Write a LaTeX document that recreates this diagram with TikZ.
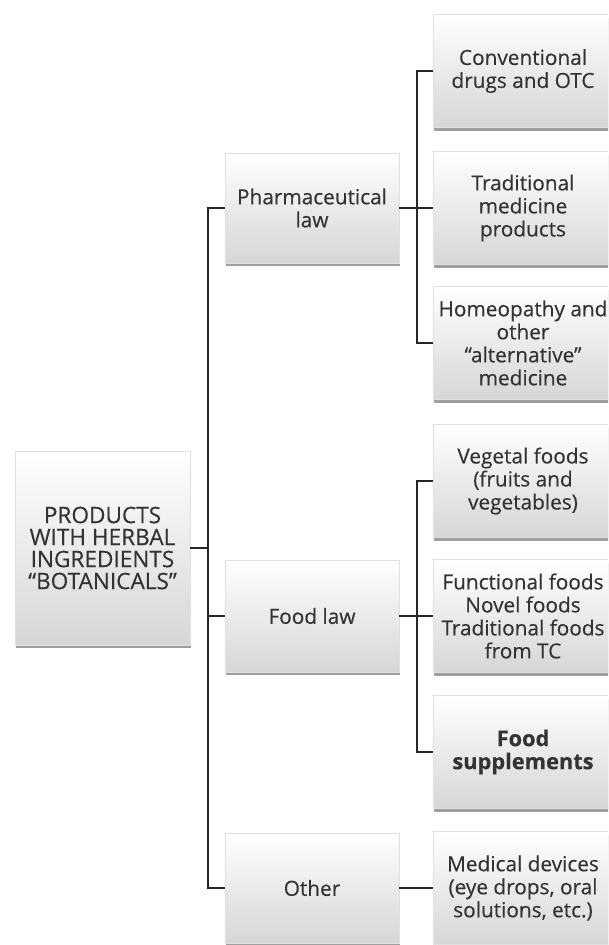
\documentclass[tikz,border=0pt]{standalone}
\usepackage{fontspec}
\setmainfont{Open Sans}[FakeBold=0.35]
\usetikzlibrary{shadows}
\definecolor{txt}{HTML}{333333}
\definecolor{ln}{HTML}{262626}
\begin{document}
\begin{tikzpicture}[x=1pt,y=-1pt,
  box/.style={draw=black!12, line width=0.6pt, top color=white, bottom color=black!16,
    drop shadow={shadow xshift=0.6pt, shadow yshift=-3pt, opacity=0.5, fill=black!75},
    text=txt, align=center, font=\fontsize{20.8}{23}\selectfont, inner sep=0pt},
  midbox/.style={box, minimum width=174pt, minimum height=110pt},
  rbox/.style={box, minimum width=180pt, minimum height=113pt},
  conn/.style={draw=ln, line width=1.8pt}]
\clip (0,0) rectangle (608,945);
\fill[white] (0,0) rectangle (608,945);
% root
\node[box, minimum width=175pt, minimum height=194pt, font=\fontsize{22.6}{22}\selectfont] (root) at (102.5,548)
  {PRODUCTS\\WITH HERBAL\\INGREDIENTS\\“BOTANICALS”};
% middle column
\node[midbox] (pharma) at (312,208) {Pharmaceutical\\law};
\node[midbox, minimum height=112pt] (food) at (312,616) {Food law};
\node[midbox] (other) at (312,888) {Other};
% right column
\node[rbox] (c1) at (523,71) {Conventional\\drugs and OTC};
\node[rbox] (c2) at (523,208) {Traditional\\medicine\\products};
\node[rbox] (c3) at (523,343) {Homeopathy and\\other\\“alternative”\\medicine};
\node[rbox] (v1) at (523,481) {Vegetal foods\\(fruits and\\vegetables)};
\node[rbox] (ff) at (523,616) {Functional foods\\Novel foods\\Traditional foods\\from TC};
\node[rbox, font=\fontsize{21.8}{23}\selectfont] (fs) at (523,752) {\textbf{Food}\\\textbf{supplements}};
\node[rbox] (md) at (523,888) {Medical devices\\(eye drops, oral\\solutions, etc.)};
% connectors
\draw[conn] (root.east) -- ++(18,0) coordinate (j1);
\draw[conn] (pharma.west) -| (j1) |- (other.west);
\draw[conn] (j1) |- (food.west);
\draw[conn] (pharma.east) -- ++(18,0) coordinate (j2);
\draw[conn] (c1.west) -| (j2) |- (c3.west);
\draw[conn] (j2) -- (c2.west);
\draw[conn] (food.east) -- ++(18,0) coordinate (j3);
\draw[conn] (v1.west) -| (j3) |- (fs.west);
\draw[conn] (j3) -- (ff.west);
\draw[conn] (other.east) -- (md.west);
\end{tikzpicture}
\end{document}
